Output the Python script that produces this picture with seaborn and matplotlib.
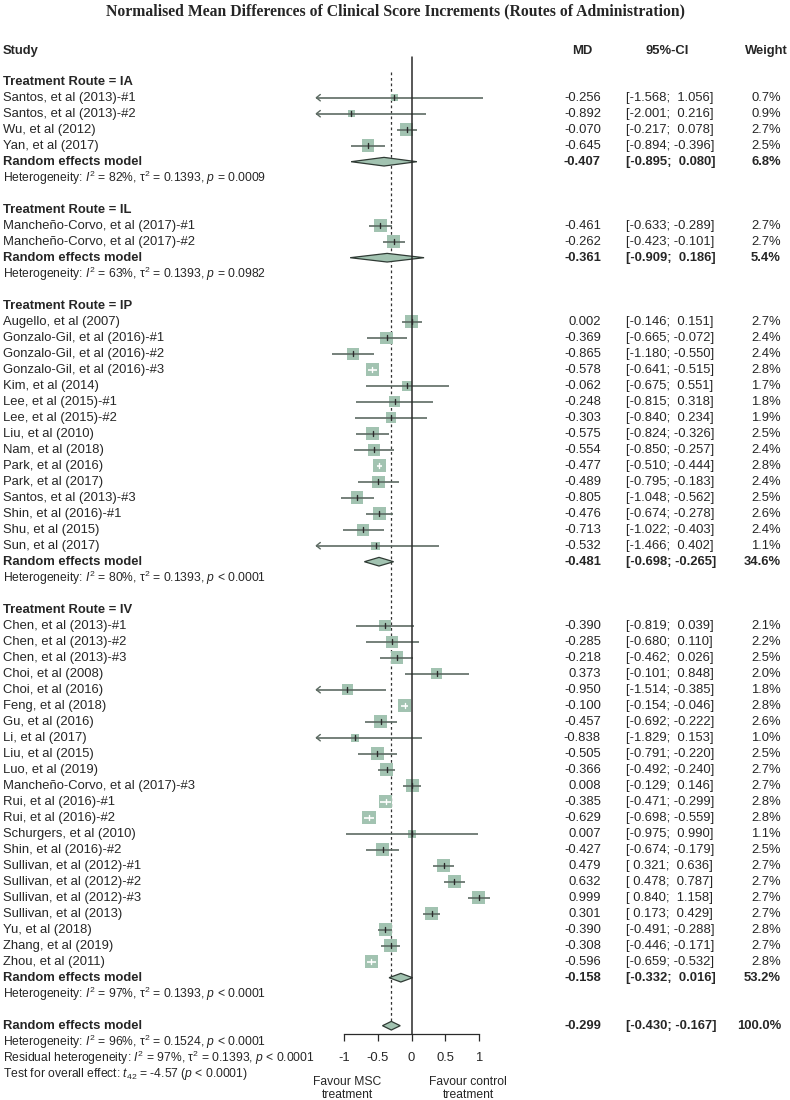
import matplotlib
matplotlib.use("Agg")
import matplotlib.pyplot as plt
import numpy as np
import pandas as pd
import seaborn as sns

# ------------------------------------------------------------------ data
title = "Normalised Mean Differences of Clinical Score Increments (Routes of Administration)"

group_names = ["IA", "IL", "IP", "IV"]

ia_study = ["Santos, et al (2013)-#1", "Santos, et al (2013)-#2", "Wu, et al (2012)", "Yan, et al (2017)"]
ia_md = [-0.256, -0.892, -0.070, -0.645]
ia_lo = [-1.568, -2.001, -0.217, -0.894]
ia_hi = [1.056, 0.216, 0.078, -0.396]
ia_w = [0.7, 0.9, 2.7, 2.5]

il_study = ["Mancheño-Corvo, et al (2017)-#1", "Mancheño-Corvo, et al (2017)-#2"]
il_md = [-0.461, -0.262]
il_lo = [-0.633, -0.423]
il_hi = [-0.289, -0.101]
il_w = [2.7, 2.7]

ip_study = ["Augello, et al (2007)", "Gonzalo-Gil, et al (2016)-#1", "Gonzalo-Gil, et al (2016)-#2",
            "Gonzalo-Gil, et al (2016)-#3", "Kim, et al (2014)", "Lee, et al (2015)-#1",
            "Lee, et al (2015)-#2", "Liu, et al (2010)", "Nam, et al (2018)", "Park, et al (2016)",
            "Park, et al (2017)", "Santos, et al (2013)-#3", "Shin, et al (2016)-#1",
            "Shu, et al (2015)", "Sun, et al (2017)"]
ip_md = [0.002, -0.369, -0.865, -0.578, -0.062, -0.248, -0.303, -0.575, -0.554, -0.477,
         -0.489, -0.805, -0.476, -0.713, -0.532]
ip_lo = [-0.146, -0.665, -1.180, -0.641, -0.675, -0.815, -0.840, -0.824, -0.850, -0.510,
         -0.795, -1.048, -0.674, -1.022, -1.466]
ip_hi = [0.151, -0.072, -0.550, -0.515, 0.551, 0.318, 0.234, -0.326, -0.257, -0.444,
         -0.183, -0.562, -0.278, -0.403, 0.402]
ip_w = [2.7, 2.4, 2.4, 2.8, 1.7, 1.8, 1.9, 2.5, 2.4, 2.8, 2.4, 2.5, 2.6, 2.4, 1.1]

iv_study = ["Chen, et al (2013)-#1", "Chen, et al (2013)-#2", "Chen, et al (2013)-#3",
            "Choi, et al (2008)", "Choi, et al (2016)", "Feng, et al (2018)", "Gu, et al (2016)",
            "Li, et al (2017)", "Liu, et al (2015)", "Luo, et al (2019)",
            "Mancheño-Corvo, et al (2017)-#3", "Rui, et al (2016)-#1", "Rui, et al (2016)-#2",
            "Schurgers, et al (2010)", "Shin, et al (2016)-#2", "Sullivan, et al (2012)-#1",
            "Sullivan, et al (2012)-#2", "Sullivan, et al (2012)-#3", "Sullivan, et al (2013)",
            "Yu, et al (2018)", "Zhang, et al (2019)", "Zhou, et al (2011)"]
iv_md = [-0.390, -0.285, -0.218, 0.373, -0.950, -0.100, -0.457, -0.838, -0.505, -0.366,
         0.008, -0.385, -0.629, 0.007, -0.427, 0.479, 0.632, 0.999, 0.301, -0.390, -0.308, -0.596]
iv_lo = [-0.819, -0.680, -0.462, -0.101, -1.514, -0.154, -0.692, -1.829, -0.791, -0.492,
         -0.129, -0.471, -0.698, -0.975, -0.674, 0.321, 0.478, 0.840, 0.173, -0.491, -0.446, -0.659]
iv_hi = [0.039, 0.110, 0.026, 0.848, -0.385, -0.046, -0.222, 0.153, -0.220, -0.240,
         0.146, -0.299, -0.559, 0.990, -0.179, 0.636, 0.787, 1.158, 0.429, -0.288, -0.171, -0.532]
iv_w = [2.1, 2.2, 2.5, 2.0, 1.8, 2.8, 2.6, 1.0, 2.5, 2.7, 2.7, 2.8, 2.8, 1.1, 2.5, 2.7, 2.7,
        2.7, 2.7, 2.8, 2.7, 2.8]

re_md = [-0.407, -0.361, -0.481, -0.158]
re_lo = [-0.895, -0.909, -0.698, -0.332]
re_hi = [0.080, 0.186, -0.265, 0.016]
re_w = [6.8, 5.4, 34.6, 53.2]
het_i2 = [82, 63, 80, 97]
het_tau2 = [0.1393, 0.1393, 0.1393, 0.1393]
het_p = ["= 0.0009", "= 0.0982", "< 0.0001", "< 0.0001"]

overall_md, overall_lo, overall_hi, overall_w = -0.299, -0.430, -0.167, 100.0
overall_i2, overall_tau2, overall_p = 96, 0.1524, "< 0.0001"
resid_i2, resid_tau2, resid_p = 97, 0.1393, "< 0.0001"
test_df, test_t, test_p = 42, -4.57, "< 0.0001"

tick_values = [-1, -0.5, 0, 0.5, 1]
tick_labels = ["-1", "-0.5", "0", "0.5", "1"]
label_left = "Favour MSC\ntreatment"
label_right = "Favour control\ntreatment"

# ------------------------------------------------------------------ style
W, H = 790, 1100
ZERO_PX, PX_UNIT = 411.5, 67.5      # x pixel of 0 and pixels per unit
ROW0_PX, ROW_PX = 97.7, 16.0        # y pixel of row 0 and row pitch
XMIN = -1.41                         # left clip of CI lines (arrows)
SQ_COL = "#a2c3b1"
CI_COL = "#5d6b63"
DIA_EDGE = "#2f3a34"
FS = 9.36        # 13 px
FS_HET = 8.7     # ~12 px
K_SIDE = 7.9     # square side in px per sqrt(weight%)

sns.set_theme(style="white")
plt.rcParams["font.family"] = ["Liberation Sans", "DejaVu Sans"]
plt.rcParams["mathtext.fontset"] = "custom"
plt.rcParams["mathtext.rm"] = "Liberation Sans"
plt.rcParams["mathtext.it"] = "Liberation Sans:italic"
plt.rcParams["mathtext.bf"] = "Liberation Sans:bold"
plt.rcParams["axes.unicode_minus"] = False


def X(px):
    return (px - ZERO_PX) / PX_UNIT


def R(py):
    return (py - ROW0_PX) / ROW_PX


fig = plt.figure(figsize=(W / 100, H / 100), dpi=100)
ax = fig.add_axes([0, 0, 1, 1])
ax.set_facecolor("white")

# ------------------------------------------------------------------ build rows
groups = [
    (ia_study, ia_md, ia_lo, ia_hi, ia_w),
    (il_study, il_md, il_lo, il_hi, il_w),
    (ip_study, ip_md, ip_lo, ip_hi, ip_w),
    (iv_study, iv_md, iv_lo, iv_hi, iv_w),
]

X_LABEL = X(3)
X_MD = X(601)
X_CI = X(626)
X_W = X(781)


def values_row(r, md, lo, hi, w, bold=False):
    fw = "bold" if bold else "normal"
    ax.text(X_MD, r, f"{md:.3f}", ha="right", va="center", fontsize=FS, fontweight=fw)
    ax.text(X_CI, r, f"[{lo:6.3f}; {hi:6.3f}]", ha="left", va="center", fontsize=FS, fontweight=fw)
    ax.text(X_W, r, f"{w:.1f}%", ha="right", va="center", fontsize=FS, fontweight=fw)


def diamond(r, md, lo, hi):
    h = 0.27
    ax.fill([lo, md, hi, md], [r, r - h, r, r + h], facecolor=SQ_COL, edgecolor=DIA_EDGE,
            linewidth=0.9, zorder=4)


recs = []
r = -1
for gi, (st, md, lo, hi, w) in enumerate(groups):
    ax.text(X_LABEL, r, f"Treatment Route = {group_names[gi]}", ha="left", va="center",
            fontsize=FS, fontweight="bold")
    r += 1
    for s, m, l, h, ww in zip(st, md, lo, hi, w):
        recs.append(dict(study=s, md=m, lo=l, hi=h, w=ww, row=r))
        ax.text(X_LABEL, r, s, ha="left", va="center", fontsize=FS)
        values_row(r, m, l, h, ww)
        r += 1
    ax.text(X_LABEL, r, "Random effects model", ha="left", va="center", fontsize=FS,
            fontweight="bold")
    values_row(r, re_md[gi], re_lo[gi], re_hi[gi], re_w[gi], bold=True)
    diamond(r, re_md[gi], re_lo[gi], re_hi[gi])
    ax.text(X_LABEL, r + 1,
            f"Heterogeneity: $I^2$ = {het_i2[gi]}%, τ$^2$ = {het_tau2[gi]:.4f}, $p$ {het_p[gi]}",
            ha="left", va="center", fontsize=FS_HET)
    r += 3

df = pd.DataFrame(recs)

# overall
r_over = r
ax.text(X_LABEL, r_over, "Random effects model", ha="left", va="center", fontsize=FS,
        fontweight="bold")
values_row(r_over, overall_md, overall_lo, overall_hi, overall_w, bold=True)
diamond(r_over, overall_md, overall_lo, overall_hi)
ax.text(X_LABEL, r_over + 1,
        f"Heterogeneity: $I^2$ = {overall_i2}%, τ$^2$ = {overall_tau2:.4f}, $p$ {overall_p}",
        ha="left", va="center", fontsize=FS_HET)
ax.text(X_LABEL, r_over + 2,
        f"Residual heterogeneity: $I^2$ = {resid_i2}%, τ$^2$ = {resid_tau2:.4f}, $p$ {resid_p}",
        ha="left", va="center", fontsize=FS_HET)
ax.text(X_LABEL, r_over + 3,
        f"Test for overall effect: $t_{{{test_df}}}$ = {test_t:.2f} ($p$ {test_p})",
        ha="left", va="center", fontsize=FS_HET)

# headers
r_head = R(51)
ax.text(X_LABEL, r_head, "Study", ha="left", va="center", fontsize=FS, fontweight="bold")
ax.text(X(582), r_head, "MD", ha="center", va="center", fontsize=FS, fontweight="bold")
ax.text(X(667), r_head, "95%-CI", ha="center", va="center", fontsize=FS, fontweight="bold")
ax.text(X(766), r_head, "Weight", ha="center", va="center", fontsize=FS, fontweight="bold")

# ------------------------------------------------------------------ marks
area_per_w = (K_SIDE * 0.72) ** 2
wmin, wmax = df["w"].min(), df["w"].max()
sns.scatterplot(data=df, x="md", y="row", size="w", sizes=(area_per_w * wmin, area_per_w * wmax),
                size_norm=(wmin, wmax), marker="s", color=SQ_COL, linewidth=0, legend=False,
                ax=ax, zorder=2)

for _, d in df.iterrows():
    half = K_SIDE * np.sqrt(d.w) / 2 / PX_UNIT
    inside = (d.md - d.lo) < half and (d.hi - d.md) < half
    col = "white" if inside else CI_COL
    lo = max(d.lo, XMIN)
    ax.plot([lo, d.hi], [d.row, d.row], color=col, lw=1.2, zorder=3, solid_capstyle="butt")
    ax.plot([d.md, d.md], [d.row - 0.17, d.row + 0.17], color="white" if inside else "#2b2b2b",
            lw=1.0, zorder=3)
    if d.lo < XMIN:
        dx = 4 / PX_UNIT
        ax.plot([XMIN + dx, XMIN, XMIN + dx], [d.row - 0.2, d.row, d.row + 0.2], color=CI_COL,
                lw=1.0, zorder=3)

# reference lines
r_axis = R(1034.3)
ax.plot([0, 0], [R(57), r_axis], color="#2a2a2a", lw=1.1, zorder=5)
ax.plot([overall_md, overall_md], [R(72), r_over - 0.27], color="#333333", lw=0.9,
        linestyle=(0, (2.2, 2.2)), zorder=1)

# x axis
ax.set_xlim(X(0), X(W))
ax.set_ylim(R(H), R(0))
for s in ["left", "right", "top"]:
    ax.spines[s].set_visible(False)
ax.spines["bottom"].set_position(("data", r_axis))
ax.spines["bottom"].set_bounds(-1, 1)
ax.spines["bottom"].set_color("#2a2a2a")
ax.spines["bottom"].set_linewidth(0.9)
ax.set_xticks(tick_values)
ax.set_xticklabels(tick_labels)
ax.set_yticks([])
ax.tick_params(axis="x", direction="out", length=5.3, width=0.9, color="#2a2a2a",
               labelsize=FS, pad=7.5, bottom=True)
ax.set_xlabel("")
ax.set_ylabel("")

ax.text(X(347), R(1088.5), label_left, ha="center", va="center", fontsize=FS_HET,
        multialignment="center", linespacing=1.05)
ax.text(X(468), R(1088.5), label_right, ha="center", va="center", fontsize=FS_HET,
        multialignment="center", linespacing=1.05)

fig.text(0.5, 1 - 11 / H, title, ha="center", va="center", fontsize=11.3,
         fontfamily=["Liberation Serif", "DejaVu Serif"], fontweight="bold")

fig.savefig("out.png", dpi=100, facecolor="white")
